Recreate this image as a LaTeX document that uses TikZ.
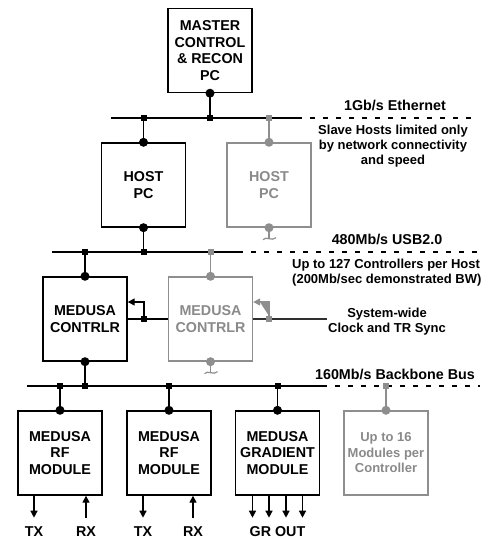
\documentclass[tikz,border=0pt]{standalone}
\usepackage{fontspec}
\setmainfont{Liberation Sans}
\usetikzlibrary{arrows.meta}
\definecolor{gr}{HTML}{8E8E8E}
\definecolor{grt}{HTML}{8A8A8A}
\definecolor{dk}{HTML}{303030}
\begin{document}
\begin{tikzpicture}[x=1pt,y=-1pt,
  box/.style={draw, line width=1.4pt, minimum width=84pt, minimum height=84pt, inner sep=0pt, align=center, font=\fontsize{14.3}{16.5}\selectfont\bfseries},
  gbox/.style={box, draw=gr, text=grt},
  wire/.style={line width=1.4pt},
  gwire/.style={wire, draw=gr},
  dot/.style={circle, fill, inner sep=0pt, minimum size=9pt},
  gdot/.style={dot, fill=gr},
  sq/.style={rectangle, fill, inner sep=0pt, minimum size=6pt},
  gsq/.style={sq, fill=gr},
  lbl/.style={font=\fontsize{14.3}{16}\selectfont\bfseries, align=center, inner sep=0pt},
  note/.style={font=\fontsize{13}{15}\selectfont\bfseries, align=center, inner sep=0pt},
  dashbus/.style={line width=1.4pt, dash pattern=on 5pt off 8pt},
  arr/.style={wire, -{Triangle[length=7pt,width=7pt]}},
]
\fill[white] (0,0) rectangle (493,539);
\useasboundingbox (0,0) rectangle (493,539);

% boxes
\node[box] (master) at (210,50.5) {MASTER\\CONTROL\\\& RECON\\PC};
\node[box] (host) at (143.5,185) {HOST\\PC};
\node[gbox] (ghost) at (269,185) {HOST\\PC};
\node[box] (ctrl) at (85,319) {MEDUSA\\CONTRLR};
\node[gbox] (gctrl) at (210.5,319) {MEDUSA\\CONTRLR};
\node[box] (rf1) at (60,453) {MEDUSA\\RF\\MODULE};
\node[box] (rf2) at (169,453) {MEDUSA\\RF\\MODULE};
\node[box] (grad) at (277.5,453) {MEDUSA\\GRADIENT\\MODULE};
\node[gbox, font=\fontsize{13}{15.5}\selectfont\bfseries] (gmod) at (386,453) {Up to 16\\Modules per\\Controller};

% Ethernet bus
\coordinate (eL) at (111,118);
\coordinate (eM) at (297,118);
\coordinate (eR) at (476,118);
\draw[wire] (eL) -- (eM);
\draw[dashbus] (eM) -- (eR);
\draw[wire] (master.south) -- (master.south |- eL);
\draw[wire] (host.north) -- (host.north |- eL);
\draw[gwire] (ghost.north) -- (ghost.north |- eL);
\node[sq] (e1) at (master.south |- eL) {};
\node[sq] (e2) at (host.north |- eL) {};
\node[gsq] (e3) at (ghost.north |- eL) {};

% USB bus
\coordinate (uL) at (52,252);
\coordinate (uM) at (238,252);
\coordinate (uR) at (480,252);
\draw[wire] (uL) -- (uM);
\draw[dashbus] (uM) -- (uR);
\draw[wire] (host.south) -- (host.south |- uL);
\draw[wire] (ctrl.north) -- (ctrl.north |- uL);
\draw[gwire] (gctrl.north) -- (gctrl.north |- uL);
\node[sq] (u1) at (host.south |- uL) {};
\node[sq] (u2) at (ctrl.north |- uL) {};
\node[gsq] (u3) at (gctrl.north |- uL) {};

% Backbone bus
\coordinate (bL) at (27,386);
\coordinate (bM) at (322,386);
\coordinate (bR) at (480,386);
\draw[wire] (bL) -- (bM);
\draw[dashbus] (bM) -- (bR);
\draw[wire] (ctrl.south) -- (ctrl.south |- bL);
\draw[wire] (rf1.north) -- (rf1.north |- bL);
\draw[wire] (rf2.north) -- (rf2.north |- bL);
\draw[wire] (grad.north) -- (grad.north |- bL);
\draw[gwire] (gmod.north) -- (gmod.north |- bL);
\node[sq] (b1) at (ctrl.south |- bL) {};
\node[sq] (b2) at (rf1.north |- bL) {};
\node[sq] (b3) at (rf2.north |- bL) {};
\node[sq] (b4) at (grad.north |- bL) {};
\node[gsq] (b5) at (gmod.north |- bL) {};

% broken (unconnected) stubs
\draw[gr, line width=1.2pt] (ghost.south) -- ++(0,11) coordinate (gs1);
\draw[gr, line width=1.2pt] ([xshift=-6pt,yshift=-1pt]gs1) .. controls ([xshift=-3pt,yshift=3pt]gs1) and ([xshift=3pt,yshift=-3pt]gs1) .. ([xshift=7pt,yshift=1pt]gs1);
\draw[gr, line width=1.2pt] (gctrl.south) -- ++(0,11) coordinate (gs2);
\draw[gr, line width=1.2pt] ([xshift=-6pt,yshift=-1pt]gs2) .. controls ([xshift=-3pt,yshift=3pt]gs2) and ([xshift=3pt,yshift=-3pt]gs2) .. ([xshift=7pt,yshift=1pt]gs2);

% dots
\node[dot] at (master.south) {};
\node[dot] at (host.north) {};
\node[gdot] at (ghost.north) {};
\node[dot] at (host.south) {};
\node[gdot] at (ghost.south) {};
\node[dot] at (ctrl.north) {};
\node[dot] at (ctrl.south) {};
\node[gdot] at (gctrl.north) {};
\node[gdot] at (gctrl.south) {};
\node[dot] at (rf1.north) {};
\node[dot] at (rf2.north) {};
\node[dot] at (grad.north) {};
\node[gdot] at (gmod.north) {};

% clock / TR sync
\coordinate (syncEnd) at (327,319);
\draw[wire] (ctrl.east) -- (gctrl.west);
\draw[wire, draw=dk] (gctrl.east) -- (syncEnd);
\node[sq] (s1) at (144,319) {};
\node[gsq] (s2) at (269,319) {};
\draw[arr] (s1) -- (144,302) -- (ctrl.east |- 0,302);
\draw[arr, draw=gr, fill=gr] (s2) -- (269,302) -- (gctrl.east |- 0,302);

% I/O arrows
\draw[arr] ([xshift=-26pt]rf1.south) -- ([xshift=-26pt,yshift=-22pt]rf1.south) coordinate (tx1);
\draw[arr] ([xshift=26pt,yshift=-22pt]rf1.south) coordinate (rx1) -- ([xshift=26pt]rf1.south);
\draw[arr] ([xshift=-26pt]rf2.south) -- ([xshift=-26pt,yshift=-22pt]rf2.south) coordinate (tx2);
\draw[arr] ([xshift=24pt,yshift=-22pt]rf2.south) coordinate (rx2) -- ([xshift=24pt]rf2.south);
\foreach \s in {-25,-8.5,8.5,25}
  \draw[arr] ([xshift=\s pt]grad.south) -- ([xshift=\s pt,yshift=-22pt]grad.south);
\node[lbl] at ([yshift=-14pt]tx1) {TX};
\node[lbl] at ([yshift=-14pt]rx1) {RX};
\node[lbl] at ([yshift=-14pt]tx2) {TX};
\node[lbl] at ([yshift=-14pt]rx2) {RX};
\node[lbl] (grout) at ([yshift=-36pt]grad.south) {GR OUT};

% labels
\node[lbl] at (395,105) {1Gb/s Ethernet};
\node[note] at (393,146) {Slave Hosts limited only\\by network connectivity\\and speed};
\node[lbl] at (387,239) {480Mb/s USB2.0};
\node[note, anchor=west, align=left] at (292,272.5) {\hspace*{0pt}Up to 127 Controllers per Host\\(200Mb/sec demonstrated BW)};
\node[note] at (387,322) {System-wide\\Clock and TR Sync};
\node[lbl] at (395,374) {160Mb/s Backbone Bus};
\end{tikzpicture}
\end{document}
